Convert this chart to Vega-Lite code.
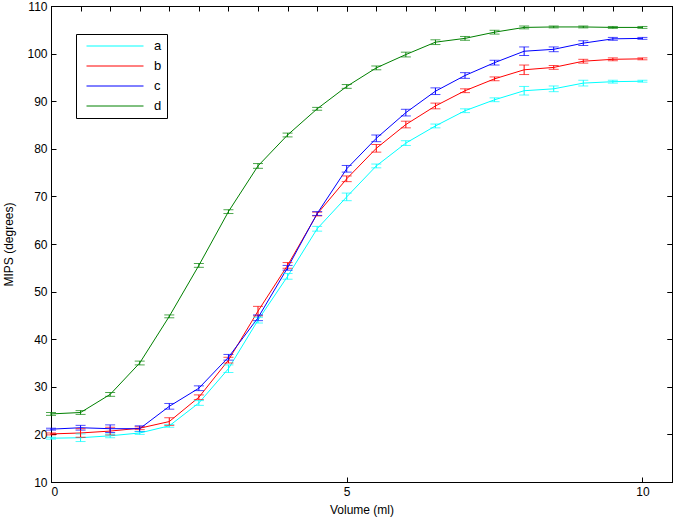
{
  "$schema": "https://vega.github.io/schema/vega-lite/v6.json",
  "width": 621,
  "height": 476,
  "autosize": {"type": "none"},
  "padding": {"left": 51, "top": 6, "right": 3, "bottom": 40},
  "background": "white",
  "config": {
    "font": "Liberation Sans",
    "view": {"stroke": "black", "strokeWidth": 1},
    "axis": {
      "grid": false,
      "domainColor": "black",
      "tickColor": "black",
      "tickSize": -5,
      "labelPadding": 9,
      "labelFontSize": 12,
      "labelColor": "black",
      "titleFontSize": 12,
      "titleFontWeight": "normal",
      "titleColor": "black",
      "labelFont": "Liberation Sans",
      "titleFont": "Liberation Sans"
    },
    "legend": {
      "orient": "none",
      "legendX": 25,
      "legendY": 28,
      "strokeColor": "black",
      "fillColor": "white",
      "padding": 5,
      "symbolType": "stroke",
      "symbolStrokeWidth": 1,
      "symbolSize": 3249,
      "labelFontSize": 13,
      "labelFont": "Liberation Sans",
      "labelColor": "black",
      "labelOffset": 15,
      "rowPadding": 6
    }
  },
  "data": {
    "values": [
      {"s":"a","x":0,"y":19.2,"e":0.2},{"s":"a","x":0.5,"y":19.3,"e":0.8},{"s":"a","x":1,"y":19.7,"e":0.4},{"s":"a","x":1.5,"y":20.3,"e":0.3},{"s":"a","x":2,"y":21.8,"e":0.3},{"s":"a","x":2.5,"y":26.6,"e":0.5},{"s":"a","x":3,"y":33.8,"e":0.8},{"s":"a","x":3.5,"y":44.0,"e":0.6},{"s":"a","x":4,"y":53.2,"e":0.6},{"s":"a","x":4.5,"y":63.2,"e":0.5},{"s":"a","x":5,"y":69.9,"e":0.8},{"s":"a","x":5.5,"y":76.4,"e":0.4},{"s":"a","x":6,"y":81.2,"e":0.5},{"s":"a","x":6.5,"y":84.8,"e":0.4},{"s":"a","x":7,"y":88.0,"e":0.4},{"s":"a","x":7.5,"y":90.3,"e":0.4},{"s":"a","x":8,"y":92.2,"e":0.9},{"s":"a","x":8.5,"y":92.6,"e":0.6},{"s":"a","x":9,"y":93.8,"e":0.6},{"s":"a","x":9.5,"y":94.1,"e":0.3},{"s":"a","x":10,"y":94.2,"e":0.2},
      {"s":"b","x":0,"y":20.1,"e":0.2},{"s":"b","x":0.5,"y":20.3,"e":0.9},{"s":"b","x":1,"y":20.7,"e":0.8},{"s":"b","x":1.5,"y":21.3,"e":0.3},{"s":"b","x":2,"y":22.7,"e":0.8},{"s":"b","x":2.5,"y":27.8,"e":0.5},{"s":"b","x":3,"y":35.6,"e":0.6},{"s":"b","x":3.5,"y":45.9,"e":1.0},{"s":"b","x":4,"y":55.5,"e":0.6},{"s":"b","x":4.5,"y":66.3,"e":0.4},{"s":"b","x":5,"y":73.7,"e":0.6},{"s":"b","x":5.5,"y":80.1,"e":0.8},{"s":"b","x":6,"y":85.1,"e":0.7},{"s":"b","x":6.5,"y":89.0,"e":0.6},{"s":"b","x":7,"y":92.2,"e":0.4},{"s":"b","x":7.5,"y":94.7,"e":0.4},{"s":"b","x":8,"y":96.6,"e":1.0},{"s":"b","x":8.5,"y":97.1,"e":0.4},{"s":"b","x":9,"y":98.4,"e":0.4},{"s":"b","x":9.5,"y":98.8,"e":0.3},{"s":"b","x":10,"y":98.9,"e":0.2},
      {"s":"c","x":0,"y":21.1,"e":0.2},{"s":"c","x":0.5,"y":21.4,"e":0.5},{"s":"c","x":1,"y":21.2,"e":0.8},{"s":"c","x":1.5,"y":21.2,"e":0.6},{"s":"c","x":2,"y":25.9,"e":0.6},{"s":"c","x":2.5,"y":29.7,"e":0.5},{"s":"c","x":3,"y":36.2,"e":0.6},{"s":"c","x":3.5,"y":44.5,"e":0.6},{"s":"c","x":4,"y":55.0,"e":0.5},{"s":"c","x":4.5,"y":66.4,"e":0.4},{"s":"c","x":5,"y":75.8,"e":0.7},{"s":"c","x":5.5,"y":82.2,"e":0.7},{"s":"c","x":6,"y":87.6,"e":0.7},{"s":"c","x":6.5,"y":92.1,"e":0.7},{"s":"c","x":7,"y":95.4,"e":0.6},{"s":"c","x":7.5,"y":98.1,"e":0.5},{"s":"c","x":8,"y":100.5,"e":0.9},{"s":"c","x":8.5,"y":100.9,"e":0.5},{"s":"c","x":9,"y":102.2,"e":0.5},{"s":"c","x":9.5,"y":103.1,"e":0.3},{"s":"c","x":10,"y":103.2,"e":0.2},
      {"s":"d","x":0,"y":24.3,"e":0.3},{"s":"d","x":0.5,"y":24.6,"e":0.4},{"s":"d","x":1,"y":28.4,"e":0.4},{"s":"d","x":1.5,"y":35.0,"e":0.4},{"s":"d","x":2,"y":44.8,"e":0.3},{"s":"d","x":2.5,"y":55.5,"e":0.4},{"s":"d","x":3,"y":66.8,"e":0.4},{"s":"d","x":3.5,"y":76.4,"e":0.5},{"s":"d","x":4,"y":82.9,"e":0.4},{"s":"d","x":4.5,"y":88.4,"e":0.3},{"s":"d","x":5,"y":93.1,"e":0.4},{"s":"d","x":5.5,"y":97.0,"e":0.4},{"s":"d","x":6,"y":99.8,"e":0.5},{"s":"d","x":6.5,"y":102.4,"e":0.5},{"s":"d","x":7,"y":103.2,"e":0.4},{"s":"d","x":7.5,"y":104.5,"e":0.4},{"s":"d","x":8,"y":105.5,"e":0.3},{"s":"d","x":8.5,"y":105.6,"e":0.2},{"s":"d","x":9,"y":105.6,"e":0.2},{"s":"d","x":9.5,"y":105.5,"e":0.2},{"s":"d","x":10,"y":105.5,"e":0.2}
    ]
  },
  "layer": [
    {
      "mark": {"type": "line", "strokeWidth": 1},
      "encoding": {
        "x": {"field": "x", "type": "quantitative", "scale": {"domain": [0, 10.5], "nice": false}, "axis": {"values": [0, 5, 10], "title": "Volume (ml)", "titlePadding": 7}},
        "y": {"field": "y", "type": "quantitative", "scale": {"domain": [10, 110], "nice": false}, "axis": {"values": [10,20,30,40,50,60,70,80,90,100,110], "title": "MIPS (degrees)", "titlePadding": 11}},
        "color": {"field": "s", "type": "nominal", "scale": {"domain": ["a","b","c","d"], "range": ["#00FFFF","#FF0000","#0000FF","#008000"]}, "legend": {"title": null, "encode": {"symbols": {"update": {"y": {"value": 7}, "x": {"value": 34}}}, "labels": {"update": {"y": {"value": 7}}}}}}
      }
    },
    {
      "mark": {"type": "errorbar", "ticks": {"size": 10, "strokeWidth": 1}, "rule": {"strokeWidth": 1}},
      "encoding": {
        "x": {"field": "x", "type": "quantitative"},
        "y": {"field": "y", "type": "quantitative"},
        "yError": {"field": "e"},
        "color": {"field": "s", "type": "nominal", "legend": null}
      }
    },
    {
      "mark": {"type": "point", "opacity": 0},
      "encoding": {
        "x": {"field": "x", "type": "quantitative", "axis": {"orient": "top", "values": [0, 5, 10], "labels": false, "title": null}},
        "y": {"field": "y", "type": "quantitative", "axis": {"orient": "right", "values": [10,20,30,40,50,60,70,80,90,100,110], "labels": false, "title": null}}
      }
    }
  ],
  "resolve": {"axis": {"x": "independent", "y": "independent"}}
}
